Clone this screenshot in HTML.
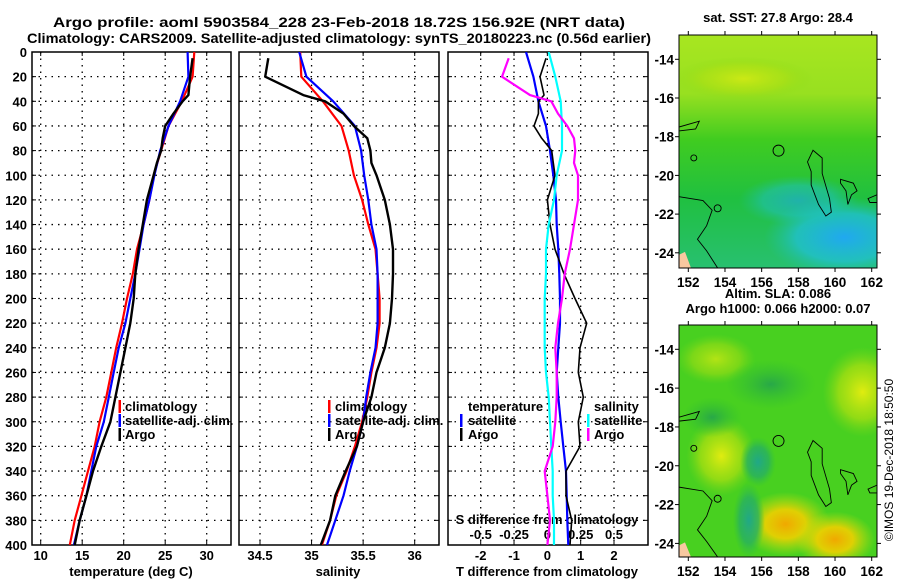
<!DOCTYPE html>
<html><head><meta charset="utf-8">
<style>
html,body{margin:0;padding:0;background:#fff;}
svg{display:block;font-family:"Liberation Sans",sans-serif;font-weight:bold;}
text{font-size:13px;fill:#000;}
</style></head>
<body>
<svg id="chart" width="900" height="580" viewBox="0 0 900 580" xmlns="http://www.w3.org/2000/svg">
<defs>
  <linearGradient id="sstGrad" x1="0" y1="0" x2="0" y2="1">
    <stop offset="0" stop-color="#a8e620"/>
    <stop offset="0.25" stop-color="#98e020"/>
    <stop offset="0.45" stop-color="#40cc20"/>
    <stop offset="0.7" stop-color="#20c040"/>
    <stop offset="1" stop-color="#28c070"/>
  </linearGradient>
  <radialGradient id="blueBlob" cx="0.5" cy="0.5" r="0.5">
    <stop offset="0" stop-color="#20a8f0"/>
    <stop offset="0.6" stop-color="#20c0d0" stop-opacity="0.8"/>
    <stop offset="1" stop-color="#20c0a0" stop-opacity="0"/>
  </radialGradient>
  <radialGradient id="yelBlob" cx="0.5" cy="0.5" r="0.5">
    <stop offset="0" stop-color="#e0ec10"/>
    <stop offset="0.6" stop-color="#b0e010" stop-opacity="0.7"/>
    <stop offset="1" stop-color="#80d818" stop-opacity="0"/>
  </radialGradient>
  <radialGradient id="orBlob" cx="0.5" cy="0.5" r="0.5">
    <stop offset="0" stop-color="#f0a800"/>
    <stop offset="0.45" stop-color="#f0d000" stop-opacity="0.9"/>
    <stop offset="1" stop-color="#c0e010" stop-opacity="0"/>
  </radialGradient>
  <radialGradient id="tealBlob" cx="0.5" cy="0.5" r="0.5">
    <stop offset="0" stop-color="#20a888"/>
    <stop offset="0.6" stop-color="#28b060" stop-opacity="0.8"/>
    <stop offset="1" stop-color="#30c040" stop-opacity="0"/>
  </radialGradient>
  <radialGradient id="dgBlob" cx="0.5" cy="0.5" r="0.5">
    <stop offset="0" stop-color="#28a848"/>
    <stop offset="1" stop-color="#30c030" stop-opacity="0"/>
  </radialGradient>
  <clipPath id="clipTop"><rect x="679" y="35" width="198" height="233"/></clipPath>
  <clipPath id="clipBot"><rect x="679" y="325" width="198" height="232"/></clipPath>
  <clipPath id="clipP1"><rect x="32" y="52" width="199" height="493"/></clipPath>
  <clipPath id="clipP2"><rect x="239" y="52" width="200" height="493"/></clipPath>
  <clipPath id="clipP3"><rect x="448" y="52" width="200" height="493"/></clipPath>
</defs>
<text x="339" y="27" text-anchor="middle" style="font-size:14px" textLength="572" lengthAdjust="spacingAndGlyphs">Argo profile: aoml 5903584_228 23-Feb-2018 18.72S 156.92E (NRT data)</text>
<text x="339" y="43" text-anchor="middle" style="font-size:14px" textLength="624" lengthAdjust="spacingAndGlyphs">Climatology: CARS2009. Satellite-adjusted climatology: synTS_20180223.nc (0.56d earlier)</text>
<g id="plots"></g>
<g id="maps"></g>
<text transform="translate(893,460) rotate(-90)" text-anchor="middle" style="font-size:12px;font-weight:normal">©IMOS 19-Dec-2018 18:50:50</text>
</svg>
<script>
// ---------- DATA ----------
const depths = [0,20,40,60,80,100,120,140,160,180,200,220,240,260,280,300,320,340,360,380,400];
const tempClim = [28.5,28.3,27.0,25.4,24.5,23.6,23.1,22.4,21.6,21.1,20.4,19.8,19.1,18.5,17.9,17.1,16.5,15.7,14.9,14.1,13.5];
const tempSat  = [27.7,27.8,26.8,25.4,24.4,23.7,23.1,22.4,21.9,21.4,20.8,20.2,19.4,18.8,18.2,17.6,16.7,16.1,15.5,14.7,14.0];
const argoDepths = [5,20,35,40,50,60,70,80,90,100,120,140,160,180,200,220,240,260,280,300,320,340,360,380,400];
const tempArgo = [28.3,28.0,27.8,27.1,26.0,25.0,24.7,24.5,24.0,23.6,22.8,22.3,21.8,21.4,21.2,20.8,20.2,19.6,19.0,18.4,17.3,16.3,15.5,14.7,14.1];
const salClim = [34.89,34.90,35.11,35.29,35.36,35.41,35.49,35.55,35.62,35.64,35.66,35.66,35.63,35.58,35.54,35.49,35.42,35.34,35.24,35.18,35.10];
const salSat  = [34.88,34.95,35.21,35.42,35.48,35.51,35.55,35.58,35.63,35.64,35.64,35.64,35.62,35.57,35.53,35.50,35.44,35.37,35.31,35.23,35.15];
const salArgo = [34.58,34.55,34.92,35.13,35.31,35.41,35.54,35.57,35.58,35.63,35.71,35.76,35.79,35.79,35.78,35.76,35.71,35.63,35.58,35.50,35.44,35.33,35.23,35.18,35.09];
const dTempSat  = [-0.64,-0.42,-0.27,-0.04,0.08,0.18,0.26,0.28,0.33,0.36,0.38,0.38,0.33,0.28,0.33,0.40,0.48,0.56,0.58,0.60,0.63];
const dTempArgo = [-0.04,-0.22,-0.10,-0.27,-0.27,-0.40,-0.17,0.13,0.18,0.23,0.0,0.08,0.23,0.50,0.83,1.18,0.98,0.93,1.08,0.93,0.98,0.56,0.56,0.73,0.68];
const dSalSat   = [0.01,0.06,0.10,0.11,0.11,0.07,0.05,0.01,-0.01,-0.01,-0.02,-0.02,-0.02,-0.01,0.01,0.02,0.03,0.04,0.04,0.05,0.05];
const dSalArgo  = [-0.29,-0.34,-0.13,0.03,0.08,0.15,0.20,0.21,0.20,0.23,0.23,0.20,0.17,0.13,0.11,0.08,0.06,0.07,0.07,0.06,0.04,-0.02,0.0,0.02,0.0];
const depthTicks = [0,20,40,60,80,100,120,140,160,180,200,220,240,260,280,300,320,340,360,380,400];
const tempTicks = [10,15,20,25,30];
const salTicks = [34.5,35,35.5,36];
const salTickLabels = ["34.5","35","35.5","36"];
const dTTicks = [-2,-1,0,1,2];
const dSTicks = [-0.5,-0.25,0,0.25,0.5];
const lonTicks = [152,154,156,158,160,162];
const latTicks = [-14,-16,-18,-20,-22,-24];

// ---------- SCALES ----------
const NS = "http://www.w3.org/2000/svg";
const Y0 = 52, Y1 = 545;
const yD = d => Y0 + (d/400)*(Y1-Y0);
const lin = (d0,d1,r0,r1) => v => r0 + (v-d0)/(d1-d0)*(r1-r0);
const xT = lin(10,30,40.7,206.7);
const xS = lin(34.5,36,260,414.7);
const xDT = lin(-2,2,480.7,614);
const xDS = v => xDT(v*4);
const plots = document.getElementById('plots');
const maps = document.getElementById('maps');
function mk(tag, attrs, parent){
  const e = document.createElementNS(NS, tag);
  for (const k in attrs) e.setAttribute(k, attrs[k]);
  parent.appendChild(e); return e;
}
function txt(x,y,s,anchor,parent,size){
  const t = mk('text',{x:x,y:y,'text-anchor':anchor||'middle'},parent);
  if(size) t.style.fontSize=size+'px';
  t.textContent = s; return t;
}
function frame(x0,x1,xticks,xf,name,showY){
  const g = mk('g',{},plots);
  
  
  depthTicks.forEach(d=>{
    const y=yD(d);
    if(d>0&&d<400){
      const l=mk('line',{x1:x0,x2:x1,y1:y,y2:y,stroke:'#000','stroke-width':1.3,'stroke-dasharray':'1.5,5'},g);
      
      
    }
    mk('line',{x1:x0,x2:x0+4,y1:y,y2:y,stroke:'#000'},g);
    mk('line',{x1:x1-4,x2:x1,y1:y,y2:y,stroke:'#000'},g);
    if(showY){
      const t=txt(27,y+5,String(d),'end',g);
      
      
    }
  });
  xticks.forEach(v=>{
    const x=xf(v);
    const l=mk('line',{x1:x,x2:x,y1:Y0,y2:Y1,stroke:'#000','stroke-width':1.3,'stroke-dasharray':'1.5,5'},g);
    
    
    mk('line',{x1:x,x2:x,y1:Y0,y2:Y0+4,stroke:'#000'},g);
    mk('line',{x1:x,x2:x,y1:Y1-4,y2:Y1,stroke:'#000'},g);
  });
  const r=mk('rect',{x:x0,y:Y0,width:x1-x0,height:Y1-Y0,fill:'none',stroke:'#000','stroke-width':1.5},g);
  
  
  return g;
}
function series(vals,ds,xf,color,w,clip,name){
  const pts = vals.map((v,i)=>xf(v).toFixed(1)+','+yD(ds[i]).toFixed(1)).join(' ');
  const p = mk('polyline',{points:pts,fill:'none',stroke:color,'stroke-width':w,'stroke-linejoin':'round','clip-path':'url(#'+clip+')'},plots);
  
  
}
function legendEntry(mx,tx,y,color,label,parent){
  const g=mk('g',{},parent);
  
  
  mk('rect',{x:mx,y:y-11,width:2.5,height:13,fill:color},g);
  txt(tx,y,label,'start',g);
}

// Panel 1: temperature
const f1=frame(32,231,tempTicks,xT,'temperature-panel',true);
tempTicks.forEach(v=>{const t=txt(xT(v),560,String(v),'middle',f1);});
const a1=txt(131,576,'temperature (deg C)','middle',f1);


series(tempClim,depths,xT,'#ff0000',2.2,'clipP1','temp-climatology-line');
series(tempSat,depths,xT,'#0000ff',2.2,'clipP1','temp-satellite-line');
series(tempArgo,argoDepths,xT,'#000000',2.4,'clipP1','temp-argo-line');
legendEntry(118.5,125,411,'#ff0000','climatology',f1);
legendEntry(118.5,125,425,'#0000ff','satellite-adj. clim.',f1);
legendEntry(118.5,125,439,'#000000','Argo',f1);

// Panel 2: salinity
const f2=frame(239,439,salTicks,xS,'salinity-panel',false);
salTicks.forEach((v,i)=>{const t=txt(xS(v),560,salTickLabels[i],'middle',f2);});
const a2=txt(338,576,'salinity','middle',f2);


series(salClim,depths,xS,'#ff0000',2.2,'clipP2','sal-climatology-line');
series(salSat,depths,xS,'#0000ff',2.2,'clipP2','sal-satellite-line');
series(salArgo,argoDepths,xS,'#000000',2.4,'clipP2','sal-argo-line');
legendEntry(328,335,411,'#ff0000','climatology',f2);
legendEntry(328,335,425,'#0000ff','satellite-adj. clim.',f2);
legendEntry(328,335,439,'#000000','Argo',f2);

// Panel 3: differences
const f3=frame(448,648,dTTicks,xDT,'difference-panel',false);
dTTicks.forEach(v=>{const t=txt(xDT(v),560,String(v),'middle',f3);});
const a3=txt(547,576,'T difference from climatology','middle',f3);


series(dTempSat,depths,xDT,'#0000ff',2.2,'clipP3','dtemp-satellite-line');
series(dTempArgo,argoDepths,xDT,'#000000',1.6,'clipP3','dtemp-argo-line');
series(dSalSat,depths,xDS,'#00ffff',2.2,'clipP3','dsal-satellite-line');
series(dSalArgo,argoDepths,xDS,'#ff00ff',2.2,'clipP3','dsal-argo-line');
const s3=txt(547,524,'S difference from climatology','middle',f3);


dSTicks.forEach(v=>{const t=txt(xDS(v),539,String(v),'middle',f3);});
txt(468,411,'temperature','start',f3);
legendEntry(460,468,425,'#0000ff','satellite',f3);
legendEntry(460,468,439,'#000000','Argo',f3);
txt(594,411,'salinity','start',f3);
legendEntry(587,594,425,'#00ffff','satellite',f3);
legendEntry(587,594,439,'#ff00ff','Argo',f3);

// ---------- MAPS ----------
const MX0=679, MX1=877;
const lonX = lin(152,162,688.3,871.7);
function drawMap(y0,y1,latY,name,title1,title2,bot){
  const g=mk('g',{},maps);
  
  
  const clip = bot ? 'clipBot':'clipTop';
  const cg=mk('g',{'clip-path':'url(#'+clip+')'},g);
  if(!bot){
    mk('rect',{x:MX0,y:y0,width:MX1-MX0,height:y1-y0,fill:'url(#sstGrad)'},cg);
    mk('ellipse',{cx:lonX(160.5),cy:latY(-23.2),rx:80,ry:40,fill:'url(#blueBlob)'},cg);
    mk('ellipse',{cx:lonX(158),cy:latY(-21.3),rx:60,ry:25,fill:'url(#blueBlob)',opacity:0.6},cg);
    mk('ellipse',{cx:lonX(155),cy:latY(-15),rx:70,ry:22,fill:'url(#yelBlob)',opacity:0.7},cg);
  } else {
    mk('rect',{x:MX0,y:y0,width:MX1-MX0,height:y1-y0,fill:'#48d020'},cg);
    mk('ellipse',{cx:lonX(161.5),cy:latY(-16.2),rx:40,ry:45,fill:'url(#yelBlob)'},cg);
    mk('ellipse',{cx:lonX(153.8),cy:latY(-19.5),rx:35,ry:40,fill:'url(#yelBlob)'},cg);
    mk('ellipse',{cx:lonX(153.5),cy:latY(-14.5),rx:40,ry:25,fill:'url(#yelBlob)',opacity:0.7},cg);
    mk('ellipse',{cx:lonX(157.3),cy:latY(-23),rx:45,ry:32,fill:'url(#orBlob)'},cg);
    mk('ellipse',{cx:lonX(160),cy:latY(-23.8),rx:40,ry:28,fill:'url(#orBlob)'},cg);
    mk('ellipse',{cx:lonX(155.8),cy:latY(-19.8),rx:18,ry:25,fill:'url(#tealBlob)'},cg);
    mk('ellipse',{cx:lonX(155.3),cy:latY(-22.8),rx:16,ry:38,fill:'url(#tealBlob)'},cg);
    mk('ellipse',{cx:lonX(156.5),cy:latY(-15.8),rx:45,ry:25,fill:'url(#dgBlob)'},cg);
    mk('ellipse',{cx:lonX(153.3),cy:latY(-17.5),rx:30,ry:20,fill:'url(#dgBlob)'},cg);
  }
  // land corner
  mk('path',{d:`M${MX0},${latY(-24.1)} L${MX0+6},${latY(-23.95)} L${MX0+12},${y1} L${MX0},${y1} Z`,fill:'#f8c8a0'},cg);
  // reef contours
  const c={fill:'none',stroke:'#000','stroke-width':0.9};
  mk('path',Object.assign({d:`M${MX0},${latY(-21.1)} L${lonX(152.8)},${latY(-21.3)} L${lonX(153.3)},${latY(-21.8)} L${lonX(153.0)},${latY(-22.6)} L${lonX(152.5)},${latY(-23.3)} L${lonX(153.0)},${latY(-23.9)} L${lonX(153.6)},${y1}`},c),cg);
  mk('path',Object.assign({d:`M${lonX(158.8)},${latY(-18.7)} L${lonX(159.3)},${latY(-19.1)} L${lonX(159.3)},${latY(-19.9)} L${lonX(159.7)},${latY(-21.2)} L${lonX(159.8)},${latY(-21.9)} L${lonX(159.5)},${latY(-22.1)} L${lonX(159.1)},${latY(-21.5)} L${lonX(158.7)},${latY(-20.5)} L${lonX(158.7)},${latY(-19.8)} L${lonX(158.5)},${latY(-19.3)} Z`},c),cg);
  mk('path',Object.assign({d:`M${lonX(160.3)},${latY(-20.2)} L${lonX(161.0)},${latY(-20.4)} L${lonX(161.2)},${latY(-20.8)} L${lonX(160.9)},${latY(-21.0)} L${lonX(160.7)},${latY(-21.5)} L${lonX(160.6)},${latY(-20.8)} L${lonX(160.3)},${latY(-20.4)} Z`},c),cg);
  mk('path',Object.assign({d:`M${MX0},${latY(-17.5)} L${lonX(152.6)},${latY(-17.2)} L${lonX(152.4)},${latY(-17.6)} L${MX0},${latY(-17.7)}`},c),cg);
  mk('path',Object.assign({d:`M${MX1},${latY(-21.0)} L${lonX(161.8)},${latY(-21.2)} L${lonX(161.9)},${latY(-21.4)} L${MX1},${latY(-21.4)}`},c),cg);
  mk('circle',Object.assign({cx:lonX(152.3),cy:latY(-19.1),r:3},c),cg);
  mk('circle',Object.assign({cx:lonX(153.6),cy:latY(-21.7),r:3.5},c),cg);
  const loc=mk('circle',Object.assign({cx:lonX(156.92),cy:latY(-18.72),r:5.5},c),cg);
  
  
  mk('rect',{x:MX0,y:y0,width:MX1-MX0,height:y1-y0,fill:'none',stroke:'#000','stroke-width':1},g);
  lonTicks.forEach(v=>{
    const x=lonX(v);
    mk('line',{x1:x,x2:x,y1:y0-4,y2:y0,stroke:'#000'},g);
    mk('line',{x1:x,x2:x,y1:y1,y2:y1+4,stroke:'#000'},g);
    const t=txt(x,y1+19,String(v),'middle',g,13.5);
    
    
  });
  latTicks.forEach(v=>{
    const y=latY(v);
    mk('line',{x1:MX0-4,x2:MX0,y1:y,y2:y,stroke:'#000'},g);
    mk('line',{x1:MX1,x2:MX1+4,y1:y,y2:y,stroke:'#000'},g);
    const t=txt(MX0-5,y+5,String(v),'end',g,13.5);
    
    
  });
  const t1=txt(778,title2?y0-27:y0-13,title1,'middle',g);
  
  
  if(title2){const t2=txt(778,y0-12,title2,'middle',g);
    
    }
}
drawMap(35,268,lin(-14,-24,59.3,252.8),'sst-map','sat. SST: 27.8 Argo: 28.4',null,false);
drawMap(325,557,lin(-14,-24,349.3,543.4),'sla-map','Altim. SLA: 0.086','Argo h1000: 0.066 h2000: 0.07',true);
</script>
</body></html>
